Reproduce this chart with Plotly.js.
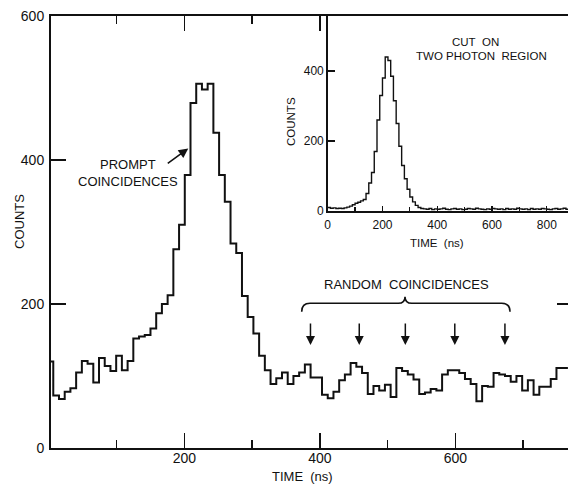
<!DOCTYPE html>
<html>
<head>
<meta charset="utf-8">
<script src="https://cdn.plot.ly/plotly-3.0.1.min.js"></script>
<style>
html,body{margin:0;padding:0;overflow:hidden;background:#fff;}
#chart{width:572px;height:485px;}
</style>
</head>
<body>
<div id="chart"></div>
<script>
// ---- main histogram (time of flight, ns) ----
const binWidth = 8.44;          // ns per channel
const firstEdge = -2.09;        // left edge of first channel (ns)
const counts = [120,
  73, 68, 78, 83, 105, 121, 117, 91, 125, 114,
  107, 128, 108, 121, 152, 155, 157, 166, 187, 200,
  212, 276, 310, 379, 479, 506, 498, 506, 438, 379,
  342, 284, 271, 211, 182, 159, 128, 108, 89, 97,
  105, 89, 100, 105, 116,
  98, 98, 74, 69, 78, 94, 102, 118, 113, 104,
  75, 86, 80, 88, 71, 111, 107, 102, 95, 75,
  77, 82, 80, 102, 108, 108, 104, 96, 89, 65,
  86, 85, 104, 102, 100, 92, 100, 80, 94, 74,
  85, 85, 96, 111, 111];

// ---- inset histogram: cut on two photon region ----
const insetBin = 10;
const insetCounts = [
  10, 8, 9, 7, 8, 7, 9, 11, 14, 18,
  22, 25, 29, 33, 50, 80, 110, 170, 260, 330,
  380, 440, 430, 385, 315, 250, 185, 130, 92, 62,
  40, 26, 16, 10, 7,
  6, 5, 7, 4, 6, 5, 6, 8, 5, 4, 6, 7, 5, 6, 4, 5, 7, 6, 5, 8,
  6, 5, 4, 6, 5, 7, 6, 5, 6, 4, 7, 5, 6, 5, 8, 6, 5, 6, 4, 7,
  5, 6, 5, 7, 6, 5, 4, 6, 7, 5, 6, 8, 5, 6];

// arrows marking random coincidence peaks (ns)
const randomMarks = [386, 458, 526, 599, 673];

function stepXY(start, w, vals) {
  const x = [], y = [];
  for (let i = 0; i < vals.length; i++) { x.push(start + i * w); y.push(vals[i]); }
  x.push(start + vals.length * w); y.push(vals[vals.length - 1]);
  return {x, y};
}
const main = stepXY(firstEdge, binWidth, counts);
const ins = stepXY(0, insetBin, insetCounts);

// layout helpers (pixel -> paper)
const PL = 51, PR = 572, PT = 16, PB = 448;
const pxp = v => (v - PL) / (PR - PL);
const pyp = v => (PB - v) / (PB - PT);

const FONT = '"Liberation Sans", Arial, Helvetica, sans-serif';
const INK = '#111';

const traces = [
  {x: main.x, y: main.y, type: 'scatter', mode: 'lines',
   line: {shape: 'hv', color: INK, width: 2}, xaxis: 'x', yaxis: 'y', hoverinfo: 'skip'},
  {x: ins.x, y: ins.y, type: 'scatter', mode: 'lines',
   line: {shape: 'hv', color: INK, width: 1.4}, xaxis: 'x2', yaxis: 'y2', hoverinfo: 'skip'}
];

// brace over random coincidences (pixel path -> paper)
const P = p => pxp(p[0]).toFixed(4) + ',' + pyp(p[1]).toFixed(4);
const bracePath = 'M' + P([301.7,311.7]) + ' Q' + P([301.7,303.3]) + ' ' + P([310,303.3]) +
  ' L' + P([398.3,303.3]) + ' Q' + P([405,303.3]) + ' ' + P([405,296.7]) +
  ' Q' + P([405,303.3]) + ' ' + P([411.7,303.3]) +
  ' L' + P([501.7,303.3]) + ' Q' + P([510,303.3]) + ' ' + P([510,311.7]);

function label(xp, yp, text, size, angle) {
  return {xref:'paper', yref:'paper', x:pxp(xp), y:pyp(yp), text:text,
    xanchor:'center', yanchor:'middle', textangle: angle || 0,
    showarrow:false, font:{size:size}};
}

const annotations = [
  label(19, 222, 'COUNTS', 13, -90),
  label(302, 477, 'TIME&nbsp;&nbsp;(ns)', 13),
  label(128, 173, 'PROMPT<br>COINCIDENCES', 13),
  {xref:'x', yref:'y', x:205.6, y:416, ax:-22, ay:16, text:'', showarrow:true,
   arrowhead:2, arrowsize:1.2, arrowwidth:1.6, arrowcolor:INK},
  label(406, 284, 'RANDOM&nbsp;&nbsp;COINCIDENCES', 13),
  label(291, 122, 'COUNTS', 11.5, -90),
  label(437, 243, 'TIME&nbsp;&nbsp;(ns)', 11.5),
  label(475, 42, 'CUT&nbsp;&nbsp;ON', 11.5),
  label(481, 56, 'TWO PHOTON&nbsp;&nbsp;REGION', 11.5)
];
randomMarks.forEach(t => annotations.push({
  xref:'x', yref:'y', x:t, y:143, ax:0, ay:-23, text:'', showarrow:true,
  arrowhead:2, arrowsize:1.2, arrowwidth:1.5, arrowcolor:INK}));

const layout = {
  width: 572, height: 485,
  margin: {l: PL, r: 0, t: PT, b: 485 - PB, pad: 0},
  paper_bgcolor: '#fff', plot_bgcolor: '#fff',
  showlegend: false,
  font: {family: FONT, color: INK, size: 14},
  xaxis: {domain: [0, 1], range: [3, 772], anchor: 'y',
    tick0: 0, dtick: 200, ticks: 'inside', ticklen: 15, tickwidth: 1.5, tickcolor: INK,
    minor: {tick0: 0, dtick: 100, ticks: 'inside', ticklen: 8, tickwidth: 1.5, tickcolor: INK},
    showline: true, linewidth: 2, linecolor: INK, mirror: 'ticks',
    showgrid: false, zeroline: false, tickfont: {size: 14}, ticklabelstandoff: -4},
  yaxis: {domain: [0, 1], range: [0, 600], anchor: 'x',
    tick0: 0, dtick: 200, ticks: 'inside', ticklen: 15, tickwidth: 1.5, tickcolor: INK,
    showline: true, linewidth: 2, linecolor: INK, mirror: 'ticks',
    showgrid: false, zeroline: false, tickfont: {size: 14}, ticklabelstandoff: 2},
  xaxis2: {domain: [pxp(327.7), 1], range: [0, 892], anchor: 'y2',
    tick0: 0, dtick: 200, ticks: 'inside', ticklen: 5, tickwidth: 1.2, tickcolor: INK,
    minor: {tick0: 0, dtick: 100, ticks: 'inside', ticklen: 4, tickwidth: 1.2, tickcolor: INK},
    showline: true, linewidth: 1.5, linecolor: INK, mirror: true,
    showgrid: false, zeroline: false, tickfont: {size: 12}, ticklabelstandoff: 2},
  yaxis2: {domain: [pyp(211), 1], range: [0, 557], anchor: 'x2',
    tick0: 0, dtick: 200, ticks: 'inside', ticklen: 7, tickwidth: 1.2, tickcolor: INK,
    showline: true, linewidth: 1.5, linecolor: INK, mirror: true,
    showgrid: false, zeroline: false, tickfont: {size: 12}, ticklabelstandoff: 0},
  shapes: [{type: 'path', xref: 'paper', yref: 'paper', path: bracePath,
    line: {color: INK, width: 1.6}}],
  annotations: annotations
};

Plotly.newPlot('chart', traces, layout, {displayModeBar: false, staticPlot: true});
</script>
</body>
</html>
